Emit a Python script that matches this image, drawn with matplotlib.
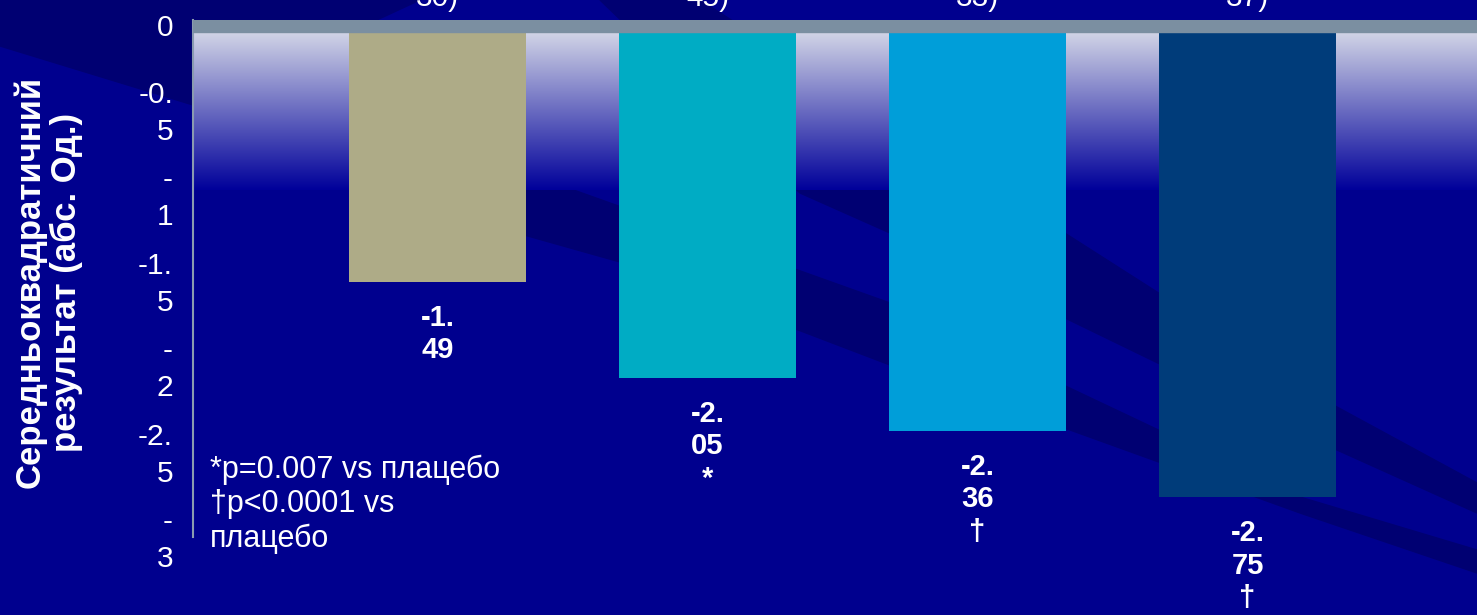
import numpy as np
import matplotlib.pyplot as plt
from matplotlib.patches import Polygon, Rectangle
from matplotlib.colors import LinearSegmentedColormap

plt.rcParams['font.family'] = ['Liberation Sans', 'DejaVu Sans']

# ---data---
groups = ["30)", "45)", "33)", "37)"]          # last line of the group captions
values = [-1.49, -2.05, -2.36, -2.75]
marks = ["", "*", "\u2020", "\u2020"]
colors = ["#aeab87", "#00acc4", "#009ed9", "#003c7a"]
yticks = [0, -0.5, -1, -1.5, -2, -2.5, -3]
ytick_labels = ["0", "-0.\n5", "-\n1", "-1.\n5", "-\n2", "-2.\n5", "-\n3"]
ylabel = "Середньоквадратичний\nрезультат (абс. Од.)"
note = "*p=0.007 vs плацебо\n\u2020p<0.0001 vs\nплацебо"

W, H = 1477, 615
fig = plt.figure(figsize=(W / 100, H / 100), dpi=100)

# ---background with diagonal streaks (pixel coords, y down)---
bg = fig.add_axes([0, 0, 1, 1], zorder=-1)
bg.set_xlim(0, W)
bg.set_ylim(H, 0)
bg.axis('off')
bg.add_patch(Rectangle((0, 0), W, H, color='#00008e'))
dark = '#000072'
bg.add_patch(Polygon([(0, 0), (420, 0), (193, 105), (0, 46)], color=dark))
bg.add_patch(Polygon([(600, 0), (700, 0), (1337, 407), (1477, 483), (1477, 513),
                      (1337, 450), (890, 233), (800, 193)], color=dark))
bg.add_patch(Polygon([(400, 128), (890, 303), (1300, 497), (1477, 550), (1477, 573),
                      (1300, 513), (890, 365), (620, 262), (400, 200)], color=dark))
# faint lighter streak at the lower right, brightening to the right
streak = Polygon([(600, 382), (1067, 503), (1300, 563), (1477, 597), (1477, 625),
                  (1300, 603), (600, 463)], facecolor='none', edgecolor='none')
bg.add_patch(streak)
grad = np.zeros((2, 256, 4))
grad[..., 0] = 0.22
grad[..., 1] = 0.22
grad[..., 2] = 0.72
grad[..., 3] = np.linspace(0, 1, 256) ** 1.5
im = bg.imshow(grad, extent=(600, W, 640, 370), aspect='auto', interpolation='bilinear')
im.set_clip_path(streak)
bg.set_xlim(0, W)
bg.set_ylim(H, 0)

# ---main axes---
ax = fig.add_axes([193 / W, 1 - 540 / H, 1 - 193 / W, 520 / H])
ax.patch.set_alpha(0)
ax.set_xlim(-0.906, 3.85)
ax.set_ylim(-3.0, 0.041)

# light-to-dark fade behind the bars
fade = LinearSegmentedColormap.from_list('fade', ['#d3d6e7', '#00009a'])
ax.imshow(np.linspace(0, 1, 256).reshape(-1, 1), cmap=fade, aspect='auto',
          extent=(-0.906, 3.85, -0.953, -0.029), zorder=0)
ax.axhspan(-0.029, 0.041, color='#7b8fa1', zorder=3)

x = np.arange(len(values))
ax.bar(x, values, width=0.655, color=colors, zorder=2)
for xi, v, m in zip(x, values, marks):
    s = f"{v:.2f}"
    txt = s[:3] + "\n" + s[3:] + ("\n" + m if m else "")
    ax.annotate(txt, xy=(xi, v), xytext=(0, -16), textcoords='offset points',
                ha='center', va='top', color='white', fontsize=21,
                fontweight='bold', linespacing=1.2)

# wrapped y tick labels, placed by hand next to the axis line
ax.set_yticks(yticks)
ax.set_yticklabels([])
ax.tick_params(axis='y', length=0)
for t, lab in zip(yticks, ytick_labels):
    ax.annotate(lab, xy=(0, t), xycoords=('axes fraction', 'data'),
                xytext=(-14.4, -0.6), textcoords='offset points',
                ha='right', va='center', color='white', fontsize=21.5,
                linespacing=1.4, annotation_clip=False)

ax.xaxis.tick_top()
ax.set_xticks(x)
ax.set_xticklabels(groups, color='white', fontsize=21.5)
ax.tick_params(axis='x', length=0, pad=6)

for side in ['top', 'right', 'bottom']:
    ax.spines[side].set_visible(False)
ax.spines['left'].set_color('#8a9bb0')
ax.spines['left'].set_linewidth(1.5)
ax.spines['left'].set_bounds(-2.98, 0.041)

fig.text(210 / W, 1 - 455 / H, note, color='white', fontsize=22,
         ha='left', va='top', linespacing=1.18)
fig.text(48 / W, 1 - 282 / H, ylabel, color='white', fontsize=25,
         fontweight='bold', rotation=90, ha='center', va='center',
         multialignment='center', linespacing=1.12)

fig.savefig('out.png', dpi=100)
